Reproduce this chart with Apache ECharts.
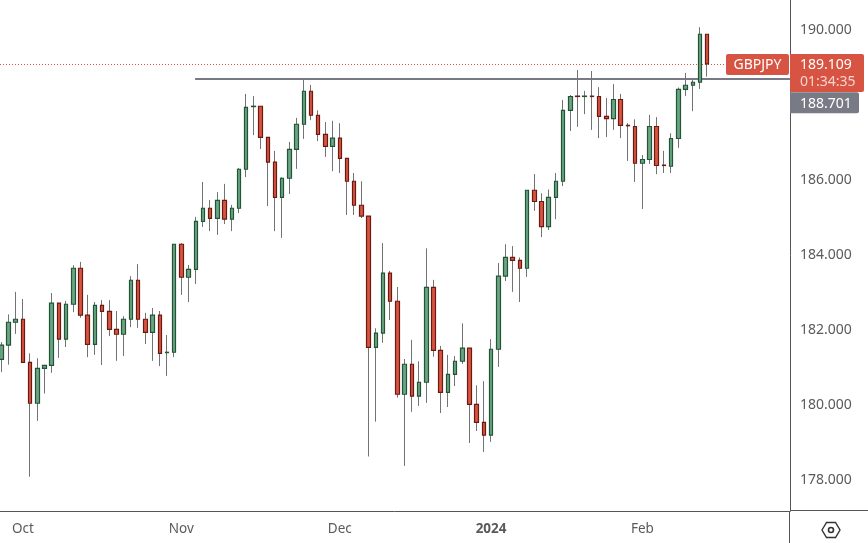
<!DOCTYPE html>
<html><head><meta charset="utf-8">
<style>html,body{margin:0;padding:0;background:#fff}#c{width:868px;height:543px}</style>
<script src="https://cdn.jsdelivr.net/npm/echarts@6/dist/echarts.min.js"></script>
</head><body><div id="c"></div>
<script>
const symbol = 'GBPJPY';
const lastPrice = 189.109;
const countdown = '01:34:35';
const levelPrice = 188.701;
const levelStartIndex = 27;
const priceTicks = [178,180,182,184,186,188,190];
const tickIndex = [3,25,47,68,89];
const tickLabels = ['Oct','Nov','Dec','2024','Feb'];
const emptySlots = 11;
const open = [181.23,181.61,182.22,182.30,181.15,180.06,180.99,181.07,182.73,181.77,182.70,183.66,182.41,181.63,182.67,182.51,182.03,181.90,182.30,183.34,182.30,181.95,182.41,181.41,181.42,
184.30,183.42,183.63,184.91,185.26,184.99,185.47,184.97,185.26,186.30,187.97,187.98,187.15,186.49,185.55,186.06,186.83,187.50,188.38,187.74,187.23,186.91,187.13,186.59,185.98,
185.34,185.05,181.55,181.93,183.53,182.78,180.30,181.10,180.25,180.62,183.15,181.47,180.35,180.83,181.18,181.53,180.03,179.55,179.21,181.50,183.45,183.95,183.87,183.66,185.74,
185.44,184.77,185.55,185.98,187.87,188.25,188.24,188.25,188.24,187.71,187.65,188.16,187.47,187.44,186.46,186.56,187.44,186.41,186.38,187.12,188.43,188.54,188.62,189.90];
const close = [181.61,182.22,182.30,181.15,180.06,180.99,181.07,182.73,181.77,182.70,183.66,182.41,181.63,182.67,182.51,182.03,181.90,182.30,183.34,182.30,181.95,182.41,181.39,181.42,184.30,
183.42,183.63,184.91,185.26,184.99,185.47,184.97,185.26,186.30,187.95,187.98,187.15,186.49,185.55,186.06,186.83,187.50,188.38,187.74,187.23,186.91,187.13,186.59,185.98,185.34,
185.05,181.55,181.93,183.53,182.78,180.30,181.10,180.25,180.62,183.15,181.47,180.35,180.83,181.18,181.53,180.03,179.55,179.21,181.50,183.45,183.95,183.87,183.66,185.74,185.44,
184.77,185.55,185.98,187.87,188.24,188.24,188.25,188.24,187.71,187.65,188.16,187.47,187.46,186.46,186.56,187.44,186.40,186.40,187.12,188.43,188.54,188.62,189.90,189.11];
const low = [180.89,181.09,181.91,181.15,178.10,179.59,180.32,180.87,181.27,181.56,182.49,182.34,181.29,181.35,181.08,181.85,181.19,181.32,182.09,182.07,181.64,181.19,181.05,180.79,181.29,
182.95,182.76,183.24,184.76,184.65,184.55,184.84,184.65,185.13,186.09,187.21,186.84,185.32,184.65,184.47,185.64,186.31,187.11,187.61,187.05,186.63,186.25,186.20,185.08,185.08,
185.00,178.64,179.57,181.67,182.28,180.21,178.39,179.83,179.99,180.07,181.30,179.80,179.96,180.52,181.11,179.00,179.32,178.76,179.03,181.03,183.32,183.03,182.76,183.43,185.19,
184.49,184.68,184.97,185.85,187.32,187.43,187.77,187.35,187.13,187.16,187.35,187.13,186.52,185.96,185.24,186.44,186.17,186.20,186.20,186.87,188.25,187.85,188.44,188.77];
const high = [181.69,182.43,183.03,182.84,181.39,181.26,181.07,183.00,182.73,182.79,183.74,183.83,182.95,182.76,182.81,182.81,182.52,182.38,183.45,183.77,182.47,182.60,182.52,181.88,184.30,
184.33,183.75,185.03,185.96,185.48,185.69,185.91,185.35,186.33,188.31,188.25,187.98,187.15,186.79,186.09,187.03,187.67,188.71,188.55,187.87,187.56,187.59,187.53,186.59,186.20,
185.98,185.05,182.06,184.33,183.59,183.16,181.24,181.75,181.18,184.19,183.35,181.59,181.35,181.32,182.19,181.53,180.54,180.65,181.77,183.80,184.30,184.25,183.95,185.74,186.17,
185.66,185.76,186.20,188.15,188.28,188.95,188.39,188.92,188.49,188.20,188.57,188.31,187.53,187.63,186.68,187.75,187.69,186.79,187.26,188.48,188.87,188.71,190.09,189.90];

const UP='#6ba583',DOWN='#d75442',UPB='#225437',DOWNB='#6b1a12',WICK='#737375',AXIS='#555555',TXT='#5a5a5a';
const FONT='"Noto Sans",sans-serif';
const n = open.length;
const categories = [];
for (let i=0;i<n+emptySlots;i++){ const k=tickIndex.indexOf(i); categories.push(k>=0?tickLabels[k]:' '+i); }
const wickData = open.map((o,i)=>[o,close[i],low[i],high[i]]);
const bodyData = open.map((o,i)=>[o,close[i],Math.min(o,close[i]),Math.max(o,close[i])]);

const chart = echarts.init(document.getElementById('c'),null,{renderer:'canvas'});
chart.setOption({
  animation:false,
  backgroundColor:'#ffffff',
  grid:{left:-2.3,right:78,top:0,bottom:32,outerBoundsMode:'none'},
  xAxis:{type:'category',data:categories,boundaryGap:true,
    axisLine:{show:true,lineStyle:{color:AXIS,width:1}},axisTick:{show:false},splitLine:{show:false},
    axisLabel:{interval:0,margin:11,color:TXT,fontFamily:FONT,fontSize:13.5,
      formatter:v=>v.charAt(0)===' '?'':(v==='2024'?'{b|2024}':v),
      rich:{b:{fontWeight:'bold',color:TXT,fontFamily:FONT,fontSize:13.5}}}},
  yAxis:{type:'value',position:'right',min:177.187,max:190.813,
    axisLine:{show:true,lineStyle:{color:AXIS,width:1}},axisTick:{show:false},splitLine:{show:false},
    axisLabel:{customValues:priceTicks,margin:10,padding:[4,0,0,0],color:TXT,fontFamily:FONT,fontSize:14,formatter:v=>v.toFixed(3)}},
  series:[
    {type:'candlestick',name:'wick',data:wickData,barWidth:1,z:2,
      itemStyle:{color:WICK,color0:WICK,borderColor:WICK,borderColor0:WICK,borderWidth:1}},
    {type:'candlestick',name:symbol,data:bodyData,barWidth:4,z:3,
      itemStyle:{color:UP,color0:DOWN,borderColor:UPB,borderColor0:DOWNB,borderWidth:1.2}}
  ]
});
const yLast = chart.convertToPixel({yAxisIndex:0},lastPrice);
const yLevel = chart.convertToPixel({yAxisIndex:0},levelPrice);
const xLevel = chart.convertToPixel({xAxisIndex:0},levelStartIndex);
const rr=(x,y,w,h,fill,r)=>({type:'rect',z:20,shape:{x,y,width:w,height:h,r},style:{fill}});
const tx=(x,y,text,fill,align)=>({type:'text',z:21,style:{x,y,text,fill,font:'14px '+FONT,align:align||'left',verticalAlign:'middle'}});
chart.setOption({graphic:[
  {type:'line',z:1,shape:{x1:0,y1:Math.round(yLast)+0.5,x2:726,y2:Math.round(yLast)+0.5},style:{stroke:DOWN,lineWidth:1,lineDash:[1,2]}},
  {type:'line',z:1,shape:{x1:xLevel-0.7,y1:Math.round(yLevel),x2:790,y2:Math.round(yLevel)},style:{stroke:'#787b86',lineWidth:2}},
  {type:'line',z:10,shape:{x1:790,y1:510.5,x2:868,y2:510.5},style:{stroke:AXIS,lineWidth:1}},
  {type:'line',z:10,shape:{x1:789.5,y1:511,x2:789.5,y2:543},style:{stroke:AXIS,lineWidth:1}},
  rr(726,yLast-10,63,21,DOWN,2),
  tx(757.5,yLast+1.5,symbol,'#ffffff','center'),
  rr(790,yLast-10,74,38,DOWN,[0,2,2,0]),
  tx(800,yLast+1.5,lastPrice.toFixed(3),'#ffffff'),
  tx(800,yLast+18,countdown,'#f6d4cf'),
  rr(790,yLevel+13,69,21,'#787b86',[0,2,2,0]),
  tx(800,yLevel+24.5,levelPrice.toFixed(3),'#ffffff'),
  {type:'polygon',z:20,shape:{points:[[822,530],[826.5,522.5],[835.5,522.5],[840,530],[835.5,537.5],[826.5,537.5]]},style:{fill:'none',stroke:'#333',lineWidth:1.4}},
  {type:'circle',z:20,shape:{cx:831,cy:530,r:2.5},style:{fill:'none',stroke:'#333',lineWidth:1.6}}
]});
</script></body></html>
